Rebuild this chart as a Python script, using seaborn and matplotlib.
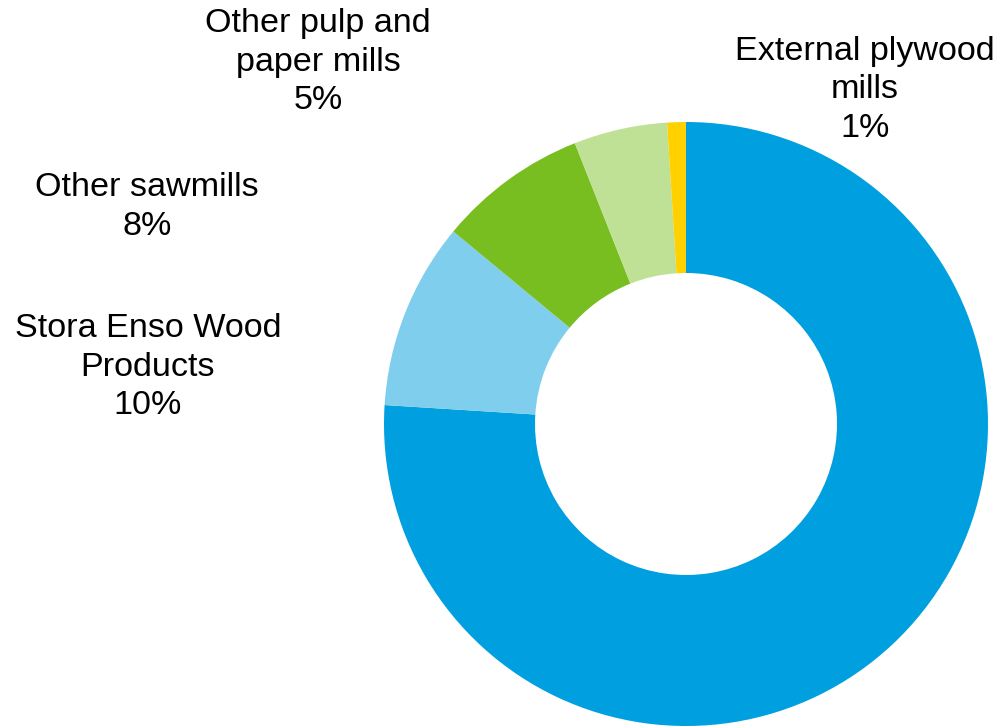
import matplotlib
matplotlib.use("Agg")
import matplotlib.pyplot as plt
import seaborn as sns

sns.set_theme(style="white")
plt.rcParams['font.family'] = ['Liberation Sans', 'DejaVu Sans']

categories = ["Own forests / other", "Stora Enso Wood\nProducts", "Other sawmills",
              "Other pulp and\npaper mills", "External plywood\nmills"]
values = [76, 10, 8, 5, 1]
colors = ["#009FDF", "#7FCEEE", "#78BE20", "#BFE195", "#FFD100"]
show_label = [False, True, True, True, True]

H = 727
fig = plt.figure(figsize=(10.02, 7.27), dpi=100)
ax = fig.add_axes([0, 0, 1, 1])

ax.pie(values, colors=colors, startangle=90, counterclock=False,
       center=(686, H - 424), radius=302,
       wedgeprops=dict(width=151, linewidth=0))
ax.set_xlim(0, 1002)
ax.set_ylim(0, H)
ax.set_aspect("equal")
ax.axis("off")

label_pos = {1: (148, 367), 2: (147, 207), 3: (318, 62), 4: (865, 90)}
for i, (cat, v) in enumerate(zip(categories, values)):
    if not show_label[i]:
        continue
    x, y = label_pos[i]
    ax.text(x, H - y, f"{cat}\n{v}%", ha="center", va="center", multialignment="center",
            fontsize=24.6, color="black", linespacing=1.3)

fig.savefig("out.png", dpi=100)
